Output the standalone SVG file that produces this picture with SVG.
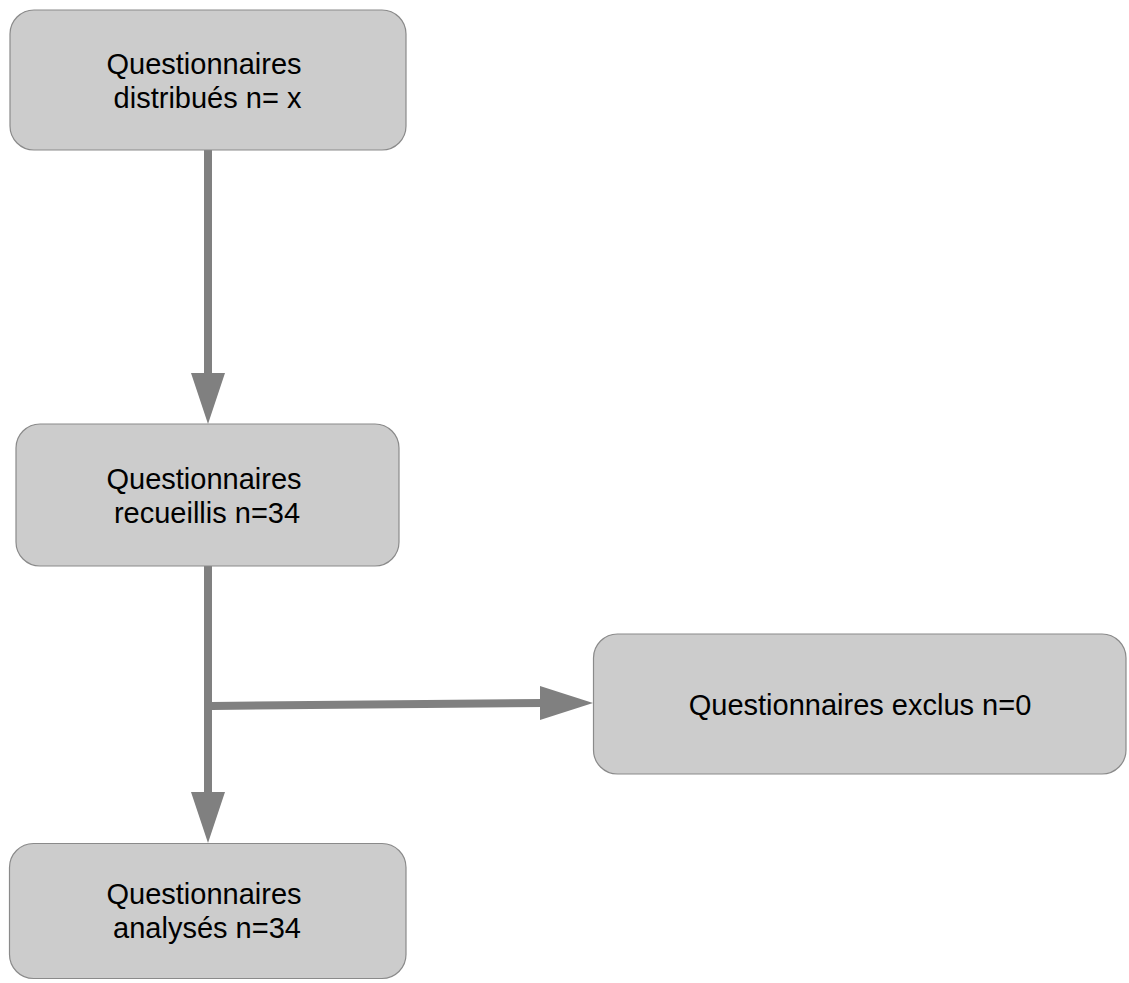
<svg xmlns="http://www.w3.org/2000/svg" width="1129" height="983" viewBox="0 0 1129 983">
<style>
.box{fill:#cccccc;stroke:#8a8a8a;stroke-width:1.2}
.t{font-family:"Liberation Sans",Arial,sans-serif;font-size:29px;fill:#000;text-anchor:middle}
.ln{stroke:#808080;stroke-width:8;fill:none}
.ah{fill:#808080}
</style>
<rect width="1129" height="983" fill="#ffffff"/>
<g id="connectors">
<line class="ln" x1="208" y1="150" x2="208" y2="376"/>
<polygon class="ah" points="191,373 225,373 208,424"/>
<line class="ln" x1="208" y1="566" x2="208" y2="795"/>
<polygon class="ah" points="191,792 225,792 208,843"/>
<line class="ln" x1="212" y1="706" x2="543" y2="703"/>
<polygon class="ah" points="540,686 540,720 593,703"/>
</g>
<g id="node1">
<rect class="box" x="10" y="10" width="396" height="140" rx="24" ry="24"/>
<text class="t" x="204" y="74">Questionnaires</text>
<text class="t" x="207.5" y="108">distribués n= x</text>
</g>
<g id="node2">
<rect class="box" x="16" y="424" width="383" height="142" rx="24" ry="24"/>
<text class="t" x="204" y="489">Questionnaires</text>
<text class="t" x="207" y="523">recueillis n=34</text>
</g>
<g id="node3">
<rect class="box" x="593.5" y="634" width="532.5" height="140" rx="24" ry="24"/>
<text class="t" x="860" y="715">Questionnaires exclus n=0</text>
</g>
<g id="node4">
<rect class="box" x="9.5" y="843.5" width="396.5" height="135" rx="24" ry="24"/>
<text class="t" x="204" y="904">Questionnaires</text>
<text class="t" x="207" y="938">analysés n=34</text>
</g>
</svg>
